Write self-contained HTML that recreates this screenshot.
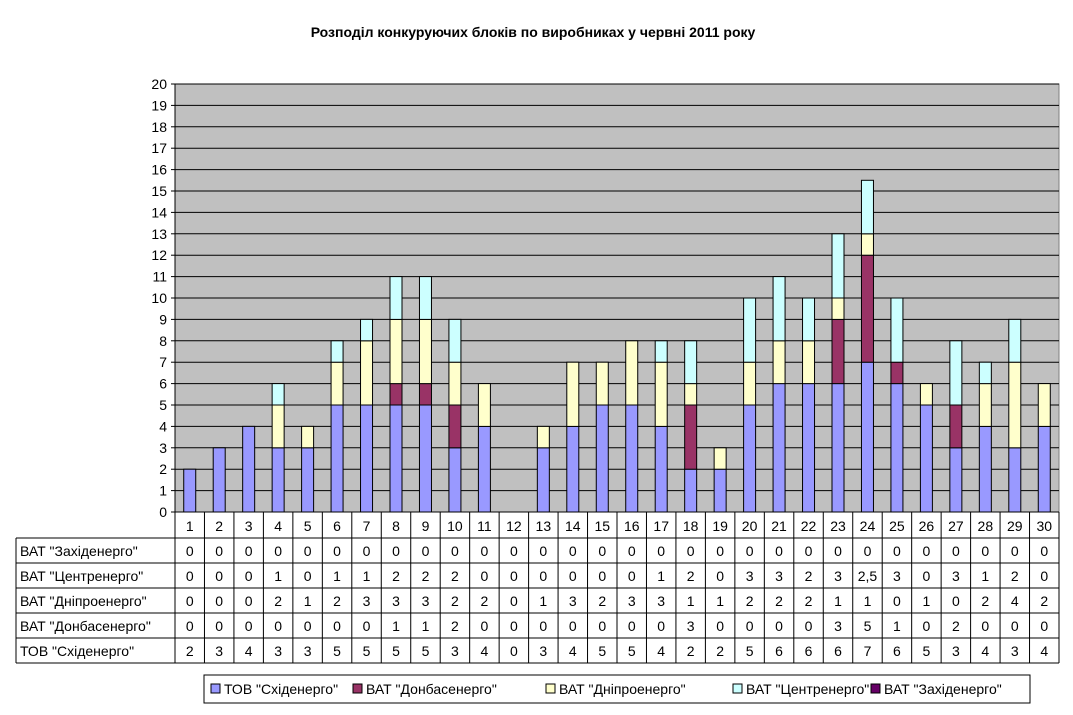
<!DOCTYPE html>
<html><head><meta charset="utf-8">
<style>
body{margin:0;background:#fff;font-family:"Liberation Sans",Arial,sans-serif;}
svg text{font-family:"Liberation Sans",Arial,sans-serif;}
</style></head>
<body>
<svg id="chart" width="1073" height="710" xmlns="http://www.w3.org/2000/svg">
<rect width="1073" height="710" fill="#fff"/>
<text x="533" y="37" text-anchor="middle" font-size="14" font-weight="bold">Розподіл конкуруючих блоків по виробниках у червні 2011 року</text>
<g id="plot"></g>
</svg>
<script>
const categories=["1","2","3","4","5","6","7","8","9","10","11","12","13","14","15","16","17","18","19","20","21","22","23","24","25","26","27","28","29","30"];
const seriesNames=['ТОВ "Східенерго"','ВАТ "Донбасенерго"','ВАТ "Дніпроенерго"','ВАТ "Центренерго"','ВАТ "Західенерго"'];
const skhid=[2,3,4,3,3,5,5,5,5,3,4,0,3,4,5,5,4,2,2,5,6,6,6,7,6,5,3,4,3,4];
const donbas=[0,0,0,0,0,0,0,1,1,2,0,0,0,0,0,0,0,3,0,0,0,0,3,5,1,0,2,0,0,0];
const dnipro=[0,0,0,2,1,2,3,3,3,2,2,0,1,3,2,3,3,1,1,2,2,2,1,1,0,1,0,2,4,2];
const tsentr=[0,0,0,1,0,1,1,2,2,2,0,0,0,0,0,0,1,2,0,3,3,2,3,2.5,3,0,3,1,2,0];
const zakhid=[0,0,0,0,0,0,0,0,0,0,0,0,0,0,0,0,0,0,0,0,0,0,0,0,0,0,0,0,0,0];
const yTicks=[0,1,2,3,4,5,6,7,8,9,10,11,12,13,14,15,16,17,18,19,20];
const colors=["#9999FF","#993366","#FFFFCC","#CCFFFF","#660066"];
const seriesKeys=["skhid","donbas","dnipro","tsentr","zakhid"];

const NS="http://www.w3.org/2000/svg";
const g=document.getElementById("plot");
const L=175,R=1059,T=84,B=512,yMax=20;
const colW=(R-L)/categories.length;
const y=v=>B-(v/yMax)*(B-T);
const x=i=>L+i*colW;
function el(tag,attrs,parent){const e=document.createElementNS(NS,tag);for(const k in attrs)e.setAttribute(k,attrs[k]);(parent||g).appendChild(e);return e;}
function txt(s,attrs){const e=el("text",attrs);e.textContent=s;return e;}

let bg=el("rect",{x:L,y:T,width:R-L,height:B-T,fill:"#C0C0C0",stroke:"#808080"});


yTicks.forEach(t=>{
  if(t>0){let ln=el("line",{x1:L,x2:R,y1:y(t),y2:y(t),stroke:"#000"});
  
  }
  let tk=el("line",{x1:L-4,x2:L,y1:y(t),y2:y(t),stroke:"#000"});
  
  
  let lb=txt(String(t),{x:L-8,y:y(t)+5,"text-anchor":"end","font-size":"14"});
  
  
});
el("line",{x1:L,x2:L,y1:T,y2:B,stroke:"#000"});

const data=[skhid,donbas,dnipro,tsentr,zakhid];
const bw=12;
categories.forEach((c,i)=>{
  let acc=0;
  data.forEach((arr,s)=>{
    const v=arr[i];
    if(v>0){
      const r=el("rect",{x:x(i)+colW/2-bw/2,y:y(acc+v),width:bw,height:y(acc)-y(acc+v),fill:colors[s],stroke:"#000","stroke-width":"1"});
      
      
    }
    acc+=v;
  });
});

// data table
const rowH=25, headTop=512, headH=26, labL=16;
const order=[4,3,2,1,0];
const tableBottom=headTop+headH+rowH*5;
el("line",{x1:L,x2:R,y1:headTop,y2:headTop,stroke:"#000"});
el("line",{x1:R,x2:R,y1:headTop,y2:tableBottom,stroke:"#000"});
el("line",{x1:labL,x2:labL,y1:headTop+headH,y2:tableBottom,stroke:"#000"});
el("line",{x1:labL,x2:R,y1:headTop+headH,y2:headTop+headH,stroke:"#000"});
categories.forEach((c,i)=>{
  el("line",{x1:x(i),x2:x(i),y1:headTop,y2:tableBottom,stroke:"#000"});
  const h=txt(c,{x:x(i)+colW/2,y:headTop+19,"text-anchor":"middle","font-size":"14"});
  
  
});
order.forEach((s,r)=>{
  const top=headTop+headH+r*rowH;
  el("line",{x1:labL,x2:R,y1:top+rowH,y2:top+rowH,stroke:"#000"});
  const lb=txt(seriesNames[s],{x:labL+4,y:top+18,"font-size":"14"});
  
  
  data[s].forEach((v,i)=>{
    const t=txt(String(v).replace(".",","),{x:x(i)+colW/2,y:top+18,"text-anchor":"middle","font-size":"14"});
    
    
  });
});

// legend
const lg=el("rect",{x:204,y:675,width:826,height:28,fill:"#fff",stroke:"#000"});


const lx=[211,353,546,733,871];
seriesNames.forEach((n,s)=>{
  const sw=el("rect",{x:lx[s],y:684,width:9,height:9,fill:colors[s],stroke:"#000"});
  
  
  const t=txt(n,{x:lx[s]+13,y:694,"font-size":"14"});
  
  
});
</script>
</body></html>
